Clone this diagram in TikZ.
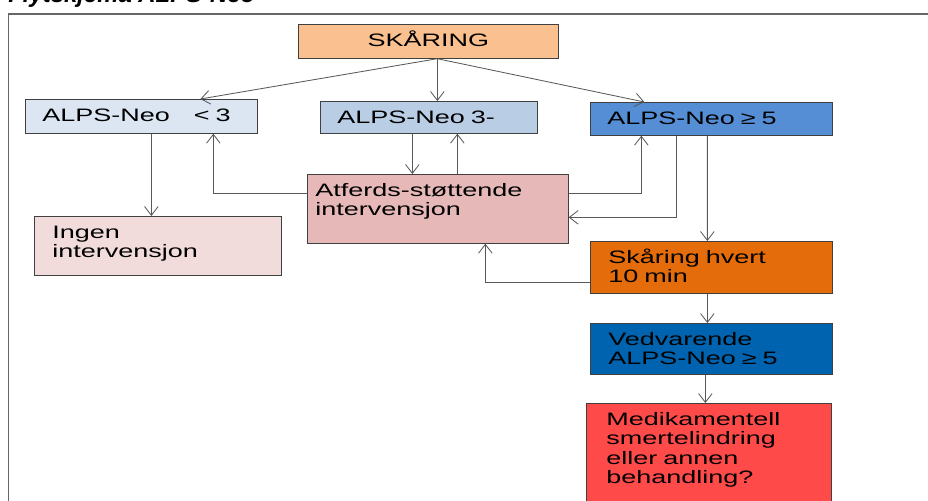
\documentclass[tikz,border=0pt]{standalone}
\usepackage{fontspec}
\setmainfont{Liberation Sans}
\newfontfamily\boxfont{Liberation Sans}[FakeStretch=1.5]
\usepackage{tikz}
\usetikzlibrary{arrows.meta}

\definecolor{peach}{HTML}{FAC090}
\definecolor{paleblue}{HTML}{DCE6F2}
\definecolor{midblue}{HTML}{B9CDE5}
\definecolor{skyblue}{HTML}{558ED5}
\definecolor{rosepink}{HTML}{E6B9B8}
\definecolor{palepink}{HTML}{F2DCDB}
\definecolor{darkorange}{HTML}{E46C0A}
\definecolor{deepblue}{HTML}{0063AF}
\definecolor{alertred}{HTML}{FF4A4A}

\begin{document}
\begin{tikzpicture}[
        box/.style={draw=black!75,line width=0.5pt,anchor=north west,align=left,inner ysep=0pt,
            text height=0.55cm,font=\boxfont\fontsize{12.8}{13.9}\selectfont},
        flow/.style={-{Straight Barb[length=2.2mm,width=3.4mm]},draw=black!65,line width=0.6pt}
    ]
        \clip (0,0) rectangle (23.2,12.525);

        % Title and frame
        \node[anchor=base west,inner sep=0pt,font=\bfseries\itshape\fontsize{17}{20}\selectfont] (title) at (0.2,12.47) {Flytskjema ALPS-Neo};
        \draw[black!60,line width=1.2pt] (0.21,-0.2) -- (0.21,12.175) -- (23.4,12.175);

        % Boxes
        \node[box,fill=peach,align=center,inner xsep=0pt,text width=6.5cm,text depth=0.3cm] (skaring) at (7.45,11.925) {SKÅRING};
        \node[box,fill=paleblue,inner xsep=0.425cm,text width=4.95cm,text depth=0.3cm] (low) at (0.625,10.05) {ALPS-Neo~~~~< 3};
        \node[box,fill=midblue,inner xsep=0.425cm,text width=4.575cm,text depth=0.25cm] (mid) at (8.0,10.0) {ALPS-Neo~3-};
        \node[box,fill=skyblue,inner xsep=0.425cm,text width=5.2cm,text depth=0.275cm] (high) at (14.75,9.975) {ALPS-Neo~≥~5};
        \node[box,fill=rosepink,inner xsep=0.2cm,text width=6.125cm,text depth=1.175cm] (atferd) at (7.675,8.175) {Atferds-støttende\\intervensjon};
        \node[box,fill=palepink,inner xsep=0.45cm,text width=5.275cm,text depth=0.925cm] (ingen) at (0.85,7.125) {Ingen\\intervensjon};
        \node[box,fill=darkorange,inner xsep=0.45cm,text width=5.15cm,text depth=0.75cm] (hvert) at (14.75,6.5) {Skåring hvert\\10 min};
        \node[box,fill=deepblue,inner xsep=0.45cm,text width=5.15cm,text depth=0.725cm] (vedv) at (14.75,4.45) {Vedvarende\\ALPS-Neo~≥~5};
        \node[box,fill=alertred,inner xsep=0.5cm,text width=5.125cm,text depth=2.5cm] (medik) at (14.65,2.45) {Medikamentell\\smertelindring\\eller annen\\behandling?};

        % Scoring splits three ways
        \coordinate (fork) at ([xshift=0.225cm]skaring.south);
        \draw[flow] (fork) -- ([xshift=1.475cm]low.north);
        \draw[flow] (fork) -- (fork |- mid.north);
        \draw[flow] (fork) -- ([xshift=-1.675cm]high.north);

        % Loops through the intervention
        \draw[flow] ([xshift=0.25cm]low.south) -- ([xshift=0.25cm]low.south |- ingen.north);
        \draw[flow] ([xshift=-0.4125cm]mid.south) -- ([xshift=-0.4125cm]mid.south |- atferd.north);
        \draw[flow] ([xshift=0.7125cm]mid.south |- atferd.north) -- ([xshift=0.7125cm]mid.south);
        \draw[flow] ([yshift=0.3875cm]atferd.west) -| ([xshift=1.8cm]low.south);
        \draw[flow] ([yshift=0.3875cm]atferd.east) -| ([xshift=-1.75cm]high.south);
        \draw[flow] ([xshift=-0.875cm]high.south) |- ([yshift=-0.2125cm]atferd.east);
        \draw[flow] ([yshift=-0.375cm]hvert.west) -| ([xshift=1.1875cm]atferd.south);

        % High scores downwards
        \draw[flow] ([xshift=-0.1cm]high.south) -- ([xshift=-0.1cm]hvert.north);
        \draw[flow] ([xshift=-0.1cm]hvert.south) -- ([xshift=-0.1cm]vedv.north);
        \draw[flow] ([xshift=-0.15cm]vedv.south) -- ([xshift=-0.15cm]vedv.south |- medik.north);
    \end{tikzpicture}
\end{document}
